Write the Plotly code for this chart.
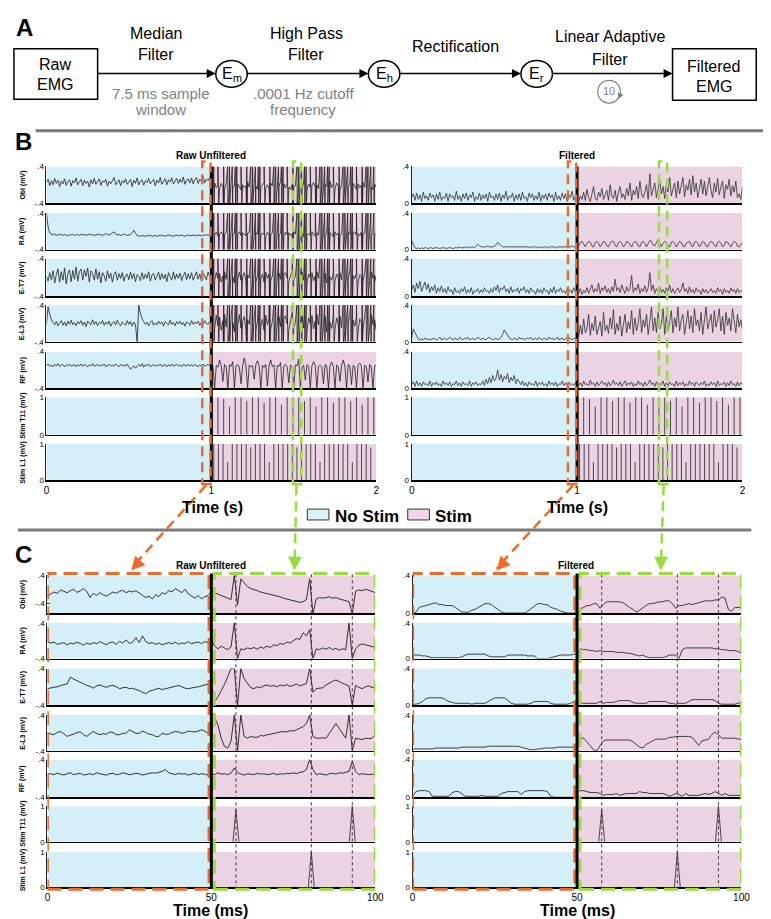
import numpy as np
import plotly.graph_objects as go

W, H = 771, 919
FONT = "Liberation Sans, Arial, Helvetica, sans-serif"
CYAN = "#d5eff9"
PINK = "#ebd3e4"
ORANGE = "#ef6b2c"
GREEN = "#97dd3f"
GRAYTXT = "#7f7f7f"

# ====================== DATA ======================
# Panel B: 0-2 s, one sample every 10 ms, values in 0.01 mV
B_DURATION = 2.0
B_ONSET = 1.0
# raw EMG before stimulation (0-1 s, 101 samples)
b_raw_obl_pre = [
    5, 12, -2, 9, 0, 14, 3, 10, -4, 8,
    2, 13, -1, 7, 11, -3, 9, 4, 15, 0,
    6, 12, -2, 10, 3, 8, -5, 11, 2, 14,
    1, 7, 13, -1, 9, 5, 12, -3, 8, 2,
    10, 16, 0, 7, 11, -2, 9, 4, 13, 1,
    6, 12, -4, 10, 3, 15, 0, 8, 11, -1,
    9, 5, 14, 2, 7, 12, -2, 10, 4, 16,
    1, 8, 13, 0, 11, 6, 15, 2, 9, 14,
    3, 12, 5, 17, 1, 10, 13, 4, 15, 2,
    11, 16, 3, 12, 7, 18, 4, 13, 9, 16,
    10,
]
b_raw_ra_pre = [
    40, 10, -4, -7, -8, -6, -9, -7, -8, -6,
    -9, -7, -8, -10, -7, -8, -6, -9, -8, -7,
    -9, -6, -8, -7, -9, -8, -6, -8, -7, -9,
    -8, -7, -6, -8, -9, -7, -5, -7, -8, -6,
    -4, -1, -6, -8, -7, -9, -8, -6, -7, -9,
    -8, -7, -3, 2, -4, -9, -10, -11, -9, -10,
    -11, -9, -10, -8, -11, -10, -9, -11, -10, -8,
    -10, -9, -11, -10, -8, -9, -10, -11, -9, -8,
    -10, -9, -8, -10, -11, -9, -8, -10, -9, -8,
    -9, -10, -8, -9, -10, -8, -9, -7, -9, -8,
    -6,
]
b_raw_et7_pre = [
    2, -8, 10, -5, 14, -12, 6, 18, -10, 12,
    -6, 20, -14, 8, 16, -9, 15, -4, 22, -8,
    12, 18, -6, 16, 2, 20, -10, 14, 8, -6,
    18, -4, 12, -12, 10, 4, -8, 14, -2, 9,
    -10, 6, 12, -6, 8, -2, 10, -8, 4, 7,
    -5, 11, -3, 8, -9, 6, 2, -7, 10, -4,
    7, -2, 12, -8, 5, 9, -6, 3, 11, -5,
    8, -3, 6, -9, 10, 2, -6, 12, -4, 7,
    -2, 9, -7, 4, 11, -5, 8, -3, 10, -6,
    5, 12, -4, 7, -8, 9, 3, -5, 11, 2,
    6,
]
b_raw_el3_pre = [
    -2, 36, 20, 8, 2, -3, 4, -5, 1, 6,
    -4, 3, -6, 5, -2, 7, -3, 2, -5, 4,
    -1, 6, -4, 3, -7, 5, 0, -3, 8, -2,
    4, -5, 2, -1, 6, -4, 3, -2, 5, -6,
    1, 4, -3, 7, -1, -5, 3, 0, -4, 6,
    -2, 4, -6, 3, -3, -40, 40, 22, 10, 4,
    -2, 3, -5, 2, 6, -4, 1, -3, 5, -1,
    3, -6, 4, 0, -3, 7, -2, 2, -5, 4,
    -1, 5, -3, 2, -6, 3, 1, -4, 6, -2,
    3, -1, 5, -4, 2, -3, 6, 0, -2, 4,
    2,
]
# raw EMG baseline during stimulation (1.01-2 s, 100 samples), stimulation artefacts added at pulses
b_raw_obl_stim = [
    -2, 4, -6, 0, -8, 3, -4, -10, 1, -5,
    -3, 5, -7, -1, -9, 2, -4, -11, 0, -6,
    -2, 6, -5, 1, -8, 3, -3, -10, 2, -4,
    -1, 5, -6, 0, -9, 4, -2, -12, 1, -5,
    -3, 7, -4, 2, -7, 3, -5, -10, 0, -6,
    -2, 6, -6, 1, -9, 4, -3, -11, 2, -5,
    -1, 5, -5, 0, -8, 3, -4, -10, 1, -4,
    -3, 7, -6, 2, -9, 4, -2, -12, 0, -5,
    -2, 6, -4, 1, -7, 3, -3, -10, 2, -6,
    -1, 5, -5, 0, -8, 4, -4, -11, 1, -5,
]
b_raw_ra_stim = [
    -4, -8, -2, -10, -5, -1, -9, -6, -3, -11,
    -5, -2, -8, -4, -12, -6, -1, -9, -3, -7,
    -10, -4, -2, -8, -5, -11, -3, -6, -1, -9,
    -4, -7, -12, -2, -6, -9, -3, -5, -10, -1,
    -8, -4, -6, -11, -2, -7, -3, -9, -5, 0,
    -6, -10, -3, -8, -4, -12, -2, -7, -5, -9,
    -1, -6, -11, -3, -8, -4, -10, -2, -7, -5,
    -9, -3, -6, -12, -1, -8, -4, -10, -5, -2,
    -7, -11, -3, -6, -9, -4, -1, -8, -5, -10,
    -2, -7, -4, -11, -6, -3, -9, -5, -8, -4,
]
b_raw_et7_stim = [
    4, -6, 10, -2, 8, -10, 3, 12, -4, 6,
    -8, 9, 1, -12, 7, -3, 11, -6, 2, 10,
    -9, 5, -1, 13, -5, 8, -11, 4, 9, -3,
    6, -10, 11, -2, 7, -7, 3, 12, -6, 1,
    9, -4, -12, 6, 10, -1, -8, 5, 13, -5,
    2, -9, 8, -3, 11, -6, 4, -11, 7, 0,
    10, -7, 3, 12, -2, -9, 6, -4, 9, -12,
    5, 1, -6, 11, -8, 7, -2, 10, -5, 3,
    -10, 8, -1, 12, -7, 4, -3, 9, -11, 6,
    2, -8, 10, -4, 7, -6, 11, -2, 5, -9,
]
b_raw_el3_stim = [
    10, -12, 18, -5, 14, -15, 6, 20, -8, 12,
    -14, 16, 2, -18, 11, -4, 19, -10, 5, 15,
    -16, 8, -2, 21, -9, 13, -17, 7, 16, -6,
    9, -15, 18, -3, 12, -12, 4, 20, -10, 2,
    15, -7, -18, 10, 17, -1, -13, 8, 22, -9,
    3, -16, 14, -5, 18, -10, 6, -18, 12, 0,
    17, -12, 5, 20, -3, -15, 10, -7, 15, -19,
    8, 2, -11, 18, -14, 12, -4, 16, -9, 5,
    -17, 13, -2, 21, -12, 7, -6, 15, -18, 10,
    4, -14, 17, -7, 12, -10, 19, -3, 8, -15,
]
# stimulation-artefact extremes for Obl, RA, E-T7, E-L3 (0.01 mV, clipped at the axis)
b_artifact_hi = [40, 40, 40, 40]
b_artifact_lo = [-40, -40, -40, -40]
# RF raw, full 0-2 s (201 samples)
b_raw_rf = [
    10, 13, 8, 11, 7, 12, 9, 14, 8, 10,
    12, 7, 11, 9, 13, 8, 10, 12, 7, 11,
    9, 13, 8, 12, 10, 7, 11, 9, 14, 8,
    10, 12, 8, 11, 9, 13, 7, 10, 12, 9,
    11, 8, 13, 10, 7, 12, 9, 11, 8, 13,
    6, 2, 5, 9, 4, 7, 12, 8, 14, 6,
    11, 9, 13, 7, 10, 12, 8, 11, 9, 13,
    8, 10, 12, 7, 11, 9, 13, 8, 10, 12,
    9, 11, 7, 12, 10, 8, 13, 9, 11, 8,
    12, 10, 7, 11, 9, 13, 8, 10, 12, 9,
    11,
    8, -40, 10, 6, 22, 9, -25, 12, 7, -40,
    11, 8, 18, -40, 9, 12, 6, -30, 10, 26,
    8, -40, 11, 7, 9, -20, 12, 20, 8, -40,
    10, 6, 12, -35, 9, 22, 7, 11, -40, 10,
    8, 16, -40, 9, 12, 6, -28, 10, 8, -40,
    11, 9, 24, -40, 7, 10, -22, 12, 8, -40,
    9, 18, 11, -40, 8, 10, 7, -30, 12, 9,
    -40, 10, 17, 8, -40, 11, 7, -25, 10, 22,
    8, -40, 12, 9, -32, 10, 7, -40, 11, 15,
    9, -40, 10, 8, -26, 12, 7, -40, 9, 10,
]
b_filt_obl = [
    6, 10, 3, 11, 4, 9, 2, 12, 5, 8,
    3, 11, 6, 9, 2, 10, 4, 12, 3, 7,
    5, 11, 2, 10, 6, 8, 3, 13, 4, 8,
    2, 10, 5, 11, 3, 9, 6, 12, 2, 7,
    4, 11, 3, 9, 5, 10, 2, 12, 6, 8,
    3, 10, 4, 11, 2, 9, 5, 13, 3, 8,
    6, 11, 2, 9, 4, 10, 3, 12, 5, 7,
    2, 11, 6, 10, 3, 8, 4, 12, 2, 9,
    5, 10, 3, 11, 6, 9, 2, 12, 4, 8,
    3, 11, 5, 10, 2, 9, 6, 13, 3, 8,
    4,
    2, 8, 4, 12, 3, 15, 6, 2, 10, 18,
    5, 3, 12, 7, 16, 4, 9, 14, 3, 20,
    8, 5, 14, 2, 12, 18, 6, 10, 4, 16,
    8, 22, 3, 14, 9, 18, 5, 24, 10, 6,
    12, 20, 4, 32, 8, 16, 22, 6, 14, 25,
    10, 18, 5, 20, 12, 28, 8, 15, 22, 6,
    24, 10, 18, 28, 7, 20, 14, 26, 9, 30,
    12, 22, 6, 18, 26, 10, 24, 8, 20, 28,
    14, 6, 22, 12, 27, 9, 18, 24, 5, 20,
    15, 26, 8, 19, 12, 24, 6, 10, 4, 18,
]
b_filt_ra = [
    10, 5, 2, 1, 2, 1, 2, 1, 2, 2,
    1, 2, 2, 1, 2, 2, 2, 1, 2, 2,
    2, 1, 2, 2, 2, 1, 2, 2, 2, 3,
    2, 2, 3, 2, 3, 2, 3, 3, 2, 4,
    6, 4, 3, 3, 3, 3, 4, 3, 3, 3,
    4, 5, 8, 6, 4, 3, 3, 3, 3, 3,
    3, 3, 3, 3, 3, 3, 3, 3, 3, 3,
    3, 3, 2, 3, 3, 3, 2, 3, 3, 2,
    3, 3, 2, 3, 3, 3, 3, 2, 3, 3,
    3, 3, 3, 3, 3, 3, 3, 4, 3, 3,
    4,
    4, 8, 9, 6, 3, 7, 9, 8, 4, 3,
    8, 9, 7, 3, 6, 9, 8, 4, 3, 7,
    9, 9, 5, 3, 8, 9, 7, 3, 5, 9,
    8, 6, 3, 7, 9, 8, 4, 3, 8, 9,
    7, 3, 6, 10, 9, 5, 4, 8, 11, 7,
    3, 7, 9, 8, 4, 3, 8, 9, 7, 3,
    6, 9, 8, 4, 3, 7, 8, 9, 5, 3,
    8, 9, 7, 3, 6, 9, 8, 4, 3, 7,
    9, 8, 5, 3, 8, 9, 7, 3, 5, 9,
    8, 6, 3, 7, 9, 8, 4, 3, 6, 8,
]
b_filt_et7 = [
    6, 12, 4, 14, 8, 16, 5, 11, 15, 7,
    13, 4, 10, 6, 12, 3, 9, 5, 11, 4,
    8, 3, 10, 5, 7, 2, 9, 4, 6, 3,
    8, 5, 10, 3, 7, 4, 9, 2, 6, 5,
    8, 3, 7, 4, 9, 5, 6, 3, 8, 4,
    10, 6, 12, 4, 9, 7, 11, 5, 8, 3,
    10, 4, 7, 5, 9, 3, 8, 6, 10, 4,
    7, 3, 9, 5, 6, 2, 8, 4, 7, 3,
    9, 5, 6, 2, 8, 4, 10, 3, 7, 5,
    9, 4, 6, 3, 8, 5, 7, 3, 9, 4,
    5,
    3, 8, 2, 6, 4, 9, 3, 7, 12, 4,
    8, 5, 14, 3, 9, 6, 11, 4, 8, 3,
    10, 5, 18, 6, 9, 4, 12, 7, 3, 10,
    5, 8, 22, 4, 9, 6, 13, 3, 8, 5,
    11, 4, 9, 25, 6, 12, 3, 8, 5, 10,
    4, 7, 3, 9, 5, 12, 4, 8, 3, 6,
    9, 4, 7, 14, 5, 8, 3, 10, 4, 7,
    3, 9, 5, 6, 2, 8, 4, 7, 3, 5,
    8, 4, 6, 3, 9, 5, 7, 2, 8, 4,
    6, 3, 9, 5, 7, 3, 8, 4, 6, 5,
]
b_filt_el3 = [
    4, 14, 10, 6, 3, 2, 3, 2, 4, 3,
    2, 3, 2, 4, 3, 2, 3, 5, 2, 3,
    4, 2, 3, 5, 3, 2, 4, 3, 2, 5,
    3, 2, 4, 3, 5, 2, 3, 4, 2, 3,
    5, 3, 2, 4, 3, 2, 4, 5, 3, 2,
    3, 4, 2, 3, 5, 8, 13, 10, 6, 4,
    3, 2, 4, 3, 2, 5, 3, 4, 2, 3,
    4, 3, 5, 2, 3, 4, 2, 5, 3, 2,
    4, 3, 2, 5, 3, 4, 2, 3, 5, 2,
    3, 4, 2, 3, 5, 3, 4, 2, 3, 4,
    3,
    6, 18, 8, 25, 10, 14, 30, 7, 20, 12,
    28, 8, 16, 22, 6, 32, 12, 18, 9, 26,
    14, 35, 8, 20, 12, 28, 6, 18, 30, 10,
    22, 14, 34, 8, 26, 12, 20, 36, 10, 24,
    16, 30, 8, 22, 38, 12, 26, 10, 32, 14,
    20, 36, 8, 28, 12, 22, 34, 10, 26, 16,
    38, 12, 24, 30, 8, 20, 34, 14, 28, 10,
    36, 18, 24, 12, 32, 8, 26, 38, 14, 22,
    30, 10, 34, 16, 24, 36, 12, 28, 8, 32,
    18, 26, 12, 36, 20, 10, 30, 16, 24, 14,
]
b_filt_rf = [
    4, 7, 2, 8, 3, 6, 2, 7, 4, 5,
    3, 8, 2, 6, 4, 7, 3, 5, 2, 8,
    4, 6, 3, 7, 2, 5, 4, 8, 3, 6,
    2, 7, 4, 5, 3, 8, 2, 6, 4, 7,
    3, 5, 4, 8, 3, 10, 5, 12, 6, 14,
    8, 11, 20, 9, 15, 7, 13, 10, 16, 6,
    12, 8, 14, 5, 10, 7, 4, 8, 3, 6,
    2, 7, 4, 5, 3, 8, 2, 6, 4, 7,
    3, 5, 2, 8, 4, 6, 3, 7, 2, 5,
    4, 8, 3, 6, 2, 7, 4, 5, 3, 6,
    4,
    3, 6, 2, 8, 4, 5, 3, 9, 4, 6,
    2, 7, 3, 5, 8, 4, 6, 2, 7, 3,
    5, 9, 4, 6, 3, 7, 2, 5, 8, 3,
    6, 4, 7, 2, 5, 3, 8, 4, 6, 2,
    7, 3, 5, 9, 4, 6, 2, 7, 3, 5,
    4, 8, 2, 6, 3, 7, 4, 5, 2, 8,
    3, 6, 4, 7, 2, 5, 3, 8, 4, 6,
    2, 7, 5, 3, 6, 4, 8, 2, 5, 3,
    7, 4, 6, 2, 8, 3, 5, 4, 7, 2,
    6, 3, 8, 4, 5, 2, 7, 3, 6, 4,
]
# stimulation pulses in panel B (s, mV)
b_t11_times = [1.005, 1.040, 1.075, 1.110, 1.145, 1.180, 1.215, 1.250, 1.285, 1.320,
               1.355, 1.390, 1.425, 1.460, 1.495, 1.530, 1.565, 1.600, 1.635, 1.670,
               1.705, 1.740, 1.775, 1.810, 1.845, 1.880, 1.915, 1.950, 1.985]
b_t11_amps = [1, 1, 0.95, 0.75, 1, 1, 0.9, 1, 1, 0.85,
              1, 1, 0.8, 1, 1, 1, 0.9, 1, 0.75, 1,
              1, 0.85, 1, 1, 0.9, 1, 0.8, 1, 1]
b_l1_times = [1.015, 1.043, 1.071, 1.099, 1.127, 1.155, 1.183, 1.211, 1.239, 1.267,
              1.295, 1.323, 1.351, 1.379, 1.407, 1.435, 1.463, 1.491, 1.519, 1.547,
              1.575, 1.603, 1.631, 1.659, 1.687, 1.715, 1.743, 1.771, 1.799, 1.827,
              1.855, 1.883, 1.911, 1.939, 1.967]
b_l1_amps = [1, 1, 1, 0.5, 1, 1, 1, 1, 0.9, 1,
             1, 1, 0.5, 1, 1, 1, 1, 1, 0.9, 1,
             1, 1, 1, 0.5, 1, 1, 1, 1, 1, 1,
             0.5, 1, 1, 1, 0.9]
b_pre_window = (0.945, 0.995)
b_stim_window = (1.495, 1.545)

# Panel C: 0-100 ms, one sample per ms, values in 0.01 mV
C_DURATION = 100.0
C_ONSET = 50.0
c_raw_obl = [
    -20, -15, -8, -12, -2, -6, -10, -4, 0, -9,
    -5, 2, -6, -24, -12, -18, -10, -16, -20, -14,
    -8, -12, -6, -3, -10, -5, -8, -4, -12, -18,
    -24, -20, -28, -16, -22, -10, -14, -4, -8, 2,
    -4, -10, 0, -14, -20, -26, -18, -28, -22, -18,
    -6,
    -10, -14, -18, -22, -26, -30, 40, -45, 30, 20,
    8, 2, 0, -4, -8, -10, -14, -16, -18, -20,
    -22, -26, -28, -32, -34, -36, -38, -36, -30, 30,
    -71, -28, -24, -26, -24, -22, -26, -24, -28, -30,
    -34, -36, -71, -6, -2, -4, 0, -2, -6, -10,
]
c_raw_ra = [
    -2, -5, -3, -8, -6, -4, -9, -5, -7, -3,
    -6, -10, -5, -8, -4, -7, -2, -6, -9, -4,
    -3, -8, -1, -5, 2, -6, -3, 7, -4, 11,
    -2, -6, -4, -8, -5, -9, -6, -4, -7, -3,
    -8, -5, -6, -2, -7, -4, -3, -6, -2, -4,
    4,
    -12, -18, -12, -16, -20, -14, 40, -40, -18, -20,
    -16, -18, -15, -19, -14, -17, -12, -15, -9, -11,
    -6, -8, -3, -5, 0, 5, 3, 18, 11, 25,
    -40, -18, -20, -16, -19, -15, -20, -17, -21, -18,
    -20, 40, -40, -18, -10, -7, -9, -11, -13, -15,
]
c_raw_et7 = [
    -4, -2, -1, 0, 3, 5, 6, 21, 17, 13,
    10, 7, 3, 1, -3, 2, 4, 1, -1, 2,
    3, 0, -4, -2, -1, -4, -3, -6, -8, -12,
    -15, -10, -8, -5, -3, -6, -4, -2, 0, 2,
    3, 0, -3, -4, -2, -1, 0, 2, 3, 6,
    10,
    -32, -22, -10, 5, 22, 40, 40, -40, 40, 18,
    8, -2, -4, 0, -2, 2, 4, 1, 3, 0,
    4, 2, 5, 1, 3, 6, 2, 4, 7, 40,
    -12, -4, -3, -2, 4, 9, 12, 15, 11, 8,
    5, 2, -40, 3, -1, -4, 0, 2, -1, -2,
]
c_raw_el3 = [
    -1, -3, -4, 1, 3, -2, -8, -5, -3, 1,
    2, -4, -8, -2, 3, -1, -4, -2, -3, 2,
    1, -4, -4, -1, -1, 7, 3, -1, -1, 4,
    1, -3, -4, -8, -8, -1, -3, -3, 1, 3,
    2, -1, 1, 4, 3, 2, 4, 7, 4, -1,
    -1,
    33, 18, -12, -30, -34, -19, 40, -40, 40, -8,
    -12, -8, -10, -10, -6, -7, -4, -3, -1, 1,
    2, 3, 2, 5, 4, 7, 10, 14, 21, 40,
    -8, -12, -12, -11, -12, -1, 7, 21, 10, -1,
    -12, 40, -40, -12, -14, -15, -12, -13, -12, -5,
]
c_raw_rf = [
    9, 10, 8, 11, 9, 7, 10, 12, 8, 9,
    11, 7, 9, 10, 8, 12, 10, 9, 7, 10,
    11, 8, 9, 12, 10, 8, 9, 11, 10, 7,
    9, 10, 12, 11, 13, 15, 19, 12, 10, 8,
    11, 9, 10, 7, 9, 11, 8, 10, 9, 7,
    9,
    8, 12, 9, 10, 8, 11, 22, 12, 9, 7,
    10, 9, 8, 11, 9, 10, 8, 9, 11, 8,
    10, 9, 11, 10, 12, 10, 13, 14, 19, 40,
    19, 8, 10, 9, 7, 10, 11, 9, 12, 11,
    13, 15, 36, 15, 8, 10, 9, 8, 9, 8,
]
c_filt_obl = [
    0, 1, 6, 7, 8, 9, 10, 11, 9, 9,
    8, 8, 8, 6, 3, 1, 1, 1, 3, 4,
    6, 8, 10, 10, 9, 6, 4, 1, 0, 0,
    0, 0, 0, 0, 0, 2, 5, 8, 10, 10,
    9, 9, 6, 5, 4, 2, 1, 0, 0, 0,
    2,
    4, 6, 8, 8, 10, 10, 5, 9, 12, 12,
    12, 12, 12, 11, 8, 6, 4, 1, 3, 6,
    8, 10, 10, 11, 12, 12, 13, 13, 10, 5,
    8, 8, 9, 10, 9, 10, 11, 12, 13, 13,
    13, 14, 14, 17, 16, 4, 2, 6, 6, 6,
]
c_filt_ra = [
    4, 4, 4, 3, 3, 2, 1, 1, 1, 1,
    1, 1, 1, 1, 1, 2, 4, 5, 5, 5,
    5, 5, 5, 3, 2, 2, 2, 2, 2, 4,
    4, 4, 4, 4, 4, 3, 3, 3, 0, 0,
    0, 0, 1, 2, 3, 4, 4, 4, 4, 5,
    5,
    11, 10, 10, 9, 9, 8, 9, 8, 8, 8,
    8, 7, 7, 7, 6, 6, 5, 4, 3, 4,
    2, 1, 1, 1, 1, 1, 2, 4, 4, 4,
    0, 10, 12, 12, 12, 12, 12, 12, 12, 12,
    12, 11, 11, 10, 10, 9, 9, 9, 8, 6,
]
c_filt_et7 = [
    1, 1, 2, 4, 7, 8, 8, 8, 8, 8,
    6, 4, 3, 2, 2, 2, 2, 2, 1, 2,
    2, 2, 2, 4, 6, 8, 8, 8, 8, 5,
    2, 1, 1, 1, 1, 1, 2, 4, 4, 4,
    4, 4, 2, 1, 1, 1, 1, 1, 2, 4,
    5,
    2, 2, 2, 2, 2, 2, 4, 2, 3, 3,
    3, 4, 5, 5, 5, 5, 3, 2, 2, 2,
    2, 4, 4, 4, 4, 4, 4, 2, 2, 1,
    2, 2, 2, 4, 6, 6, 6, 6, 6, 6,
    6, 5, 2, 1, 1, 1, 1, 1, 2, 3,
]
c_filt_el3 = [
    2, 2, 2, 2, 2, 2, 2, 3, 3, 3,
    3, 3, 3, 3, 3, 4, 4, 4, 4, 4,
    4, 4, 4, 5, 5, 5, 5, 5, 5, 5,
    5, 5, 5, 4, 3, 2, 1, 1, 2, 2,
    3, 3, 3, 3, 4, 4, 4, 4, 4, 4,
    4,
    14, 14, 10, 5, 1, 0, 5, 11, 12, 12,
    12, 12, 12, 12, 12, 12, 10, 7, 4, 3,
    7, 9, 11, 13, 13, 13, 13, 15, 15, 16,
    16, 16, 16, 16, 15, 10, 6, 11, 12, 13,
    18, 21, 18, 14, 14, 14, 14, 14, 13, 13,
]
c_filt_rf = [
    1, 6, 7, 7, 7, 6, 1, 1, 1, 1,
    1, 1, 5, 6, 6, 3, 1, 1, 1, 1,
    1, 2, 1, 1, 1, 1, 1, 4, 5, 6,
    6, 6, 6, 3, 6, 7, 7, 7, 7, 7,
    7, 6, 1, 0, 0, 0, 0, 0, 0, 0,
    6,
    7, 7, 6, 5, 5, 5, 4, 2, 3, 3,
    3, 4, 2, 3, 4, 4, 4, 4, 6, 5,
    5, 4, 4, 4, 4, 4, 3, 1, 2, 4,
    3, 1, 4, 2, 2, 2, 2, 3, 4, 3,
    4, 6, 4, 2, 4, 2, 2, 2, 2, 2,
]
c_t11_times = [57.5, 93.0]
c_t11_amps = [0.9, 1.0]
c_l1_times = [80.5]
c_l1_amps = [1.0]

row_labels = ["Obl (mV)", "RA (mV)", "E-T7 (mV)", "E-L3 (mV)", "RF (mV)",
              "Stim T11 (mV)", "Stim L1 (mV)"]

# ====================== LAYOUT GEOMETRY (pixels) ======================
B_rows = [(156, 193), (203, 240), (249, 287), (296, 333), (343, 380), (389, 427), (436, 473)]
C_rows = [(569, 607), (617, 653), (663, 700), (710, 746), (755, 793), (802, 838), (848, 884)]
B_cols = {"raw": (36, 371), "filt": (407, 743)}
C_cols = {"raw": (37, 370), "filt": (408, 742)}


def px(x):
    return x / W


def py(y):
    return 1 - y / H


def stim_lines(times, amps):
    xs, ys = [], []
    for t, a in zip(times, amps):
        xs += [t, t, None]
        ys += [0, a, None]
    return xs, ys


def stim_tri(times, amps):
    xs, ys = [], []
    for t, a in zip(times, amps):
        xs += [t - 0.9, t, t + 0.9, None]
        ys += [0, a, 0, None]
    return xs, ys


def even(vals, tmax):
    v = np.array(vals, dtype=float) / 100.0
    return np.linspace(0, tmax, len(v)), v


def with_artifacts(pre, stim, hi, lo):
    t_pre = np.linspace(0, B_ONSET, len(pre))
    step = (B_DURATION - B_ONSET) / len(stim)
    t_stim = B_ONSET + step * np.arange(1, len(stim) + 1)
    pts = list(zip(t_pre, pre)) + list(zip(t_stim, stim))
    for tp in sorted(b_t11_times + b_l1_times):
        pts += [(tp, hi), (tp + 0.002, lo)]
    pts.sort(key=lambda p: p[0])
    return np.array([p[0] for p in pts]), np.array([p[1] for p in pts]) / 100.0


def label(x, y, text, size, color="black", anchor="center", angle=0):
    return dict(x=px(x), y=py(y), xref="paper", yref="paper", text=text,
                xanchor=anchor, yanchor="middle", textangle=angle, showarrow=False,
                font=dict(size=size, family=FONT, color=color))


b_raw_xy = [with_artifacts(p, s, hi, lo) for p, s, hi, lo in zip(
    [b_raw_obl_pre, b_raw_ra_pre, b_raw_et7_pre, b_raw_el3_pre],
    [b_raw_obl_stim, b_raw_ra_stim, b_raw_et7_stim, b_raw_el3_stim],
    b_artifact_hi, b_artifact_lo)] + [even(b_raw_rf, B_DURATION)]

panels = [
    dict(name="B", rows=B_rows, cols=B_cols, xmax=B_DURATION, onset=B_ONSET,
         xticks=[0, 1, 2], xtext=["0", "1", "2"],
         raw=b_raw_xy,
         filt=[even(v, B_DURATION) for v in
               [b_filt_obl, b_filt_ra, b_filt_et7, b_filt_el3, b_filt_rf]],
         stim=[(b_t11_times, b_t11_amps), (b_l1_times, b_l1_amps)],
         stimfun=stim_lines, obl_raw_range=[-0.4, 0.4]),
    dict(name="C", rows=C_rows, cols=C_cols, xmax=C_DURATION, onset=C_ONSET,
         xticks=[0, 50, 100], xtext=["0", "50", "100"],
         raw=[even(v, C_DURATION) for v in
              [c_raw_obl, c_raw_ra, c_raw_et7, c_raw_el3, c_raw_rf]],
         filt=[even(v, C_DURATION) for v in
               [c_filt_obl, c_filt_ra, c_filt_et7, c_filt_el3, c_filt_rf]],
         stim=[(c_t11_times, c_t11_amps), (c_l1_times, c_l1_amps)],
         stimfun=stim_tri, obl_raw_range=[-0.69, 0.4]),
]

fig = go.Figure()
shapes, annos, lay = [], [], {}
col_axis = {}
n = 0
for pan in panels:
    for side in ("raw", "filt"):
        cx0, cx1 = pan["cols"][side]
        for r, (top, bot) in enumerate(pan["rows"]):
            n += 1
            s = "" if n == 1 else str(n)
            xref, yref = "x" + s, "y" + s
            if r == 0:
                col_axis[(pan["name"], side)] = xref
            if r < 5:
                tx, vy = pan[side][r]
                fig.add_trace(go.Scatter(
                    x=tx, y=vy, mode="lines", xaxis=xref, yaxis=yref,
                    line=dict(color="#1e1e1e" if side == "raw" else "#2e2e2e",
                              width=0.8 if pan["name"] == "B" else 0.9),
                    hoverinfo="skip", showlegend=False))
                if side == "raw":
                    yr = pan["obl_raw_range"] if r == 0 else [-0.4, 0.4]
                    tv, tt = [-0.4, 0.4], ["-.4", ".4"]
                else:
                    yr = [0, 0.4]
                    tv, tt = [0, 0.4], ["0", ".4"]
            else:
                times, amps = pan["stim"][r - 5]
                xs, ys = pan["stimfun"](times, amps)
                fig.add_trace(go.Scatter(
                    x=xs, y=ys, mode="lines", xaxis=xref, yaxis=yref,
                    line=dict(color="#222222", width=0.8),
                    hoverinfo="skip", showlegend=False))
                yr = [0, 1]
                tv, tt = [0, 1], ["0", "1"]
            lay["xaxis" + s] = dict(
                domain=[px(cx0), px(cx1)], anchor=yref, range=[0, pan["xmax"]],
                showline=True, linecolor="black", linewidth=1.5, showgrid=False,
                zeroline=False, ticks="", showticklabels=(r == 6),
                tickvals=pan["xticks"], ticktext=pan["xtext"],
                tickfont=dict(size=10, family=FONT, color="black"), fixedrange=True)
            lay["yaxis" + s] = dict(
                domain=[py(bot), py(top)], anchor=xref, range=yr,
                showline=True, linecolor="#222", linewidth=1, showgrid=False,
                zeroline=False, ticks="inside", ticklen=3, tickwidth=1,
                tickvals=tv, ticktext=tt,
                tickfont=dict(size=8, family=FONT, color="black"), fixedrange=True)
            shapes.append(dict(type="rect", xref=xref, yref=yref, x0=0, x1=pan["onset"],
                               y0=yr[0], y1=yr[1], fillcolor=CYAN, line=dict(width=0),
                               layer="below"))
            shapes.append(dict(type="rect", xref=xref, yref=yref, x0=pan["onset"],
                               x1=pan["xmax"], y0=yr[0], y1=yr[1], fillcolor=PINK,
                               line=dict(width=0), layer="below"))
            if side == "raw":
                annos.append(label(12, (top + bot) / 2, "<b>" + row_labels[r] + "</b>", 7,
                                   angle=-90))

# --------- overlays ---------
for pan in panels:
    rows = pan["rows"]
    for side in ("raw", "filt"):
        xr = col_axis[(pan["name"], side)]
        if pan["name"] == "B":
            shapes.append(dict(type="line", xref=xr, yref="paper", x0=pan["onset"],
                               x1=pan["onset"], y0=py(rows[6][1]), y1=py(rows[0][0]),
                               line=dict(color="black", width=3)))
            shapes.append(dict(type="rect", xref=xr, yref="paper",
                               x0=b_pre_window[0], x1=b_pre_window[1],
                               y0=py(477), y1=py(151),
                               line=dict(color=ORANGE, width=2.5, dash="10px,6px")))
            shapes.append(dict(type="rect", xref=xr, yref="paper",
                               x0=b_stim_window[0], x1=b_stim_window[1],
                               y0=py(477), y1=py(151),
                               line=dict(color=GREEN, width=2.5, dash="10px,6px")))
        else:
            for t in sorted(c_t11_times + c_l1_times):
                shapes.append(dict(type="line", xref=xr, yref="paper", x0=t, x1=t,
                                   y0=py(886), y1=py(567),
                                   line=dict(color="#333", width=1, dash="dot")))
            shapes.append(dict(type="rect", xref=xr, yref="paper", x0=0, x1=49.3,
                               y0=py(886), y1=py(567),
                               line=dict(color=ORANGE, width=3, dash="14px,7px")))
            shapes.append(dict(type="rect", xref=xr, yref="paper", x0=50.9, x1=100,
                               y0=py(886), y1=py(567),
                               line=dict(color=GREEN, width=3, dash="14px,7px")))
            shapes.append(dict(type="line", xref=xr, yref="paper", x0=pan["onset"],
                               x1=pan["onset"], y0=py(rows[6][1]), y1=py(rows[0][0] - 2),
                               line=dict(color="black", width=3)))

# dashed arrows from B windows to C
for (x0, y0, x1, y1, col) in [(198, 478, 122, 562, ORANGE), (571, 478, 493, 562, ORANGE),
                              (290, 478, 288, 562, GREEN), (663, 478, 660, 562, GREEN)]:
    shapes.append(dict(type="line", xref="paper", yref="paper", x0=px(x0), y0=py(y0),
                       x1=px(x1), y1=py(y1), line=dict(color=col, width=2.5, dash="10px,6px")))
    d = np.hypot(x0 - x1, y0 - y1)
    annos.append(dict(x=px(x1), y=py(y1 + 2), xref="paper", yref="paper", text="",
                      showarrow=True, arrowhead=2, arrowsize=1.1, arrowwidth=2.5,
                      arrowcolor=col, ax=(x0 - x1) / d * 9, ay=(y0 - y1) / d * 9))

# separators
shapes.append(dict(type="line", xref="paper", yref="paper", x0=px(25), x1=px(771),
                   y0=py(120), y1=py(120), line=dict(color="#7a7a7a", width=3)))
shapes.append(dict(type="line", xref="paper", yref="paper", x0=px(7), x1=px(752),
                   y0=py(523), y1=py(523), line=dict(color="#7a7a7a", width=3)))

# legend
shapes.append(dict(type="rect", xref="paper", yref="paper", x0=px(301), x1=px(323),
                   y0=py(513), y1=py(502), fillcolor="#d6f2f7", line=dict(color="#333", width=1)))
shapes.append(dict(type="rect", xref="paper", yref="paper", x0=px(403), x1=px(425),
                   y0=py(513), y1=py(502), fillcolor="#f4d4ec", line=dict(color="#333", width=1)))
annos.append(label(327, 509, "<b>No Stim</b>", 17, anchor="left"))
annos.append(label(429, 509, "<b>Stim</b>", 17, anchor="left"))

# titles / axis titles
for (x, y, txt, sz) in [(203, 145, "Raw Unfiltered", 10), (575, 145, "Filtered", 10),
                        (203, 559, "Raw Unfiltered", 10), (574, 559, "Filtered", 10),
                        (205, 500, "Time (s)", 16), (575, 500, "Time (s)", 16),
                        (203, 907, "Time (ms)", 16), (575, 907, "Time (ms)", 16)]:
    annos.append(label(x, y, "<b>" + txt + "</b>", sz))

# panel letters
for (x, y, L) in [(14, 16, "A"), (13, 131, "B"), (13, 548, "C")]:
    annos.append(label(x, y, "<b>" + L + "</b>", 24))

# ---------------- Panel A: processing pipeline ----------------
shapes.append(dict(type="rect", xref="paper", yref="paper", x0=px(3), x1=px(88),
                   y0=py(88), y1=py(37), line=dict(color="black", width=1.5)))
shapes.append(dict(type="rect", xref="paper", yref="paper", x0=px(672), x1=px(757),
                   y0=py(89), y1=py(37), line=dict(color="black", width=1.5)))
nodes = [(224, "E<sub>m</sub>"), (379, "E<sub>h</sub>"), (534, "E<sub>r</sub>")]
for cx, lab in nodes:
    shapes.append(dict(type="circle", xref="paper", yref="paper", x0=px(cx - 16), x1=px(cx + 16),
                       y0=py(76), y1=py(49), line=dict(color="black", width=1.5)))
    annos.append(label(cx, 63, lab, 16))
for (x0, x1) in [(88, 208), (240, 363), (395, 518), (550, 672)]:
    annos.append(dict(x=px(x1), y=py(62), xref="paper", yref="paper", text="",
                      showarrow=True, arrowhead=2, arrowsize=1.2, arrowwidth=1.5,
                      arrowcolor="black", ax=x0 - x1, ay=0))
for (x, y, txt, col, sz) in [
        (45, 53, "Raw", "black", 16), (45, 73, "EMG", "black", 16),
        (714, 55, "Filtered", "black", 16), (714, 75, "EMG", "black", 16),
        (147, 22, "Median", "black", 16), (147, 43, "Filter", "black", 16),
        (300, 22, "High Pass", "black", 16), (300, 43, "Filter", "black", 16),
        (452, 35, "Rectification", "black", 16),
        (608, 25, "Linear Adaptive", "black", 16), (608, 48, "Filter", "black", 16),
        (152, 82, "7.5 ms sample", GRAYTXT, 15), (152, 98, "window", GRAYTXT, 15),
        (297, 82, ".0001 Hz cutoff", GRAYTXT, 15), (297, 98, "frequency", GRAYTXT, 15),
        (607, 80, "10", GRAYTXT, 11)]:
    annos.append(label(x, y, txt, sz, color=col))
shapes.append(dict(type="circle", xref="paper", yref="paper", x0=px(596), x1=px(619),
                   y0=py(92), y1=py(69), line=dict(color=GRAYTXT, width=1.2)))
annos.append(dict(x=px(617), y=py(88), xref="paper", yref="paper", text="",
                  showarrow=True, arrowhead=2, arrowsize=1, arrowwidth=1.2,
                  arrowcolor=GRAYTXT, ax=2, ay=-5))

fig.update_layout(
    width=W, height=H, margin=dict(l=0, r=0, t=0, b=0),
    paper_bgcolor="white", plot_bgcolor="rgba(0,0,0,0)",
    showlegend=False, shapes=shapes, annotations=annos,
    font=dict(family=FONT, color="black"), **lay)

fig.write_html("out.html", config={"displayModeBar": False, "staticPlot": True})
